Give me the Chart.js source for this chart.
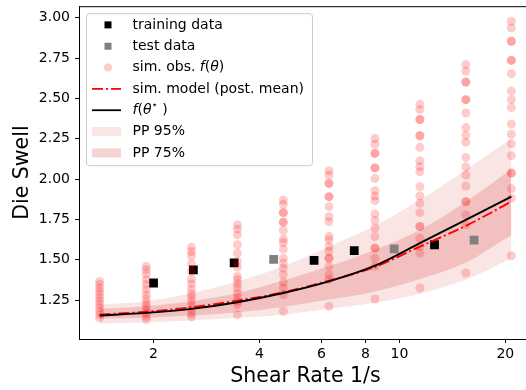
<!DOCTYPE html>
<html>
<head>
<meta charset="utf-8">
<script src="https://cdn.jsdelivr.net/npm/chart.js@4/dist/chart.umd.min.js"></script>
<style>
  html, body { margin: 0; padding: 0; overflow: hidden; background: #fff; }
  #wrap { width: 540px; height: 390px; }
</style>
</head>
<body>
<div id="wrap"><canvas id="swellChart" width="540" height="390"></canvas></div>
<script>
// shear rates where the model was simulated (1/s)
const shearRates = [1.405, 1.907, 2.564, 3.463, 4.677, 6.306, 8.518, 11.43, 15.44, 20.8];

// simulated observations f(theta), one list per shear rate
const obs1 = [1.366, 1.346, 1.325, 1.304, 1.284, 1.263, 1.243, 1.222, 1.202, 1.181, 1.160, 1.140];
const obs2 = [1.459, 1.438, 1.412, 1.377, 1.346, 1.315, 1.284, 1.259, 1.233, 1.212, 1.191, 1.171, 1.150, 1.130];
const obs3 = [1.578, 1.551, 1.525, 1.475, 1.428, 1.381, 1.352, 1.319, 1.290, 1.270, 1.243, 1.216, 1.191, 1.167, 1.146];
const obs4 = [1.716, 1.689, 1.654, 1.593, 1.541, 1.490, 1.455, 1.397, 1.377, 1.352, 1.325, 1.294, 1.263, 1.243, 1.222, 1.160];
const obs5 = [1.870, 1.844, 1.792, 1.792, 1.733, 1.733, 1.681, 1.628, 1.607, 1.566, 1.510, 1.480, 1.449, 1.407, 1.360, 1.325, 1.284, 1.181];
const obs6 = [2.052, 2.025, 1.973, 1.973, 1.891, 1.891, 1.829, 1.767, 1.736, 1.644, 1.623, 1.582, 1.551, 1.510, 1.510, 1.459, 1.407, 1.377, 1.212];
const obs7 = [2.251, 2.216, 2.159, 2.159, 2.069, 2.069, 2.004, 1.928, 1.895, 1.866, 1.784, 1.743, 1.696, 1.644, 1.572, 1.572, 1.510, 1.459, 1.257];
const obs8 = [2.463, 2.430, 2.369, 2.369, 2.268, 2.268, 2.197, 2.113, 2.076, 2.045, 1.952, 1.895, 1.850, 1.792, 1.706, 1.706, 1.634, 1.582, 1.541, 1.325];
const obs9 = [2.710, 2.669, 2.601, 2.601, 2.492, 2.492, 2.409, 2.319, 2.272, 2.228, 2.134, 2.076, 2.025, 1.957, 1.860, 1.860, 1.778, 1.716, 1.418];
const obs10 = [2.977, 2.936, 2.854, 2.854, 2.735, 2.735, 2.653, 2.545, 2.492, 2.443, 2.340, 2.278, 2.218, 2.145, 2.037, 2.037, 1.940, 1.881, 1.525];
const simObs = [obs1, obs2, obs3, obs4, obs5, obs6, obs7, obs8, obs9, obs10];

// model curves
const fStar = [1.154, 1.171, 1.196, 1.237, 1.294, 1.366, 1.463, 1.603, 1.747, 1.891];
const postMean = [1.160, 1.178, 1.206, 1.247, 1.298, 1.370, 1.455, 1.582, 1.710, 1.860];

// posterior predictive bands
const lo95 = [1.105, 1.113, 1.123, 1.140, 1.160, 1.196, 1.233, 1.290, 1.377, 1.510];
const hi95 = [1.222, 1.243, 1.294, 1.366, 1.459, 1.582, 1.710, 1.870, 2.056, 2.251];
const lo75 = [1.134, 1.140, 1.154, 1.175, 1.208, 1.253, 1.304, 1.381, 1.483, 1.654];
const hi75 = [1.196, 1.212, 1.243, 1.294, 1.372, 1.459, 1.562, 1.685, 1.860, 2.060];

// measured data
const trainX = [2.0, 2.596, 3.39, 5.72, 7.44, 12.58];
const trainY = [1.356, 1.438, 1.481, 1.496, 1.557, 1.593];
const testX = [4.39, 9.66, 16.3];
const testY = [1.502, 1.568, 1.622];

const xTicks = [2, 4, 6, 8, 10, 20];
const yTicks = [1.25, 1.5, 1.75, 2.0, 2.25, 2.5, 2.75, 3.0];

const FONT = 'DejaVu Sans';
const fill95 = 'rgba(214, 39, 40, 0.12)';
const fill75 = 'rgba(214, 39, 40, 0.2)';
const dotColor = 'rgba(255, 0, 0, 0.2)';
const dashDot = [11, 3, 2, 3];

Chart.defaults.color = '#000';
Chart.defaults.font.family = FONT;

const pts = (xs, ys) => xs.map((x, i) => ({ x: x, y: ys[i] }));
const simPoints = simObs.flatMap((col, i) => col.map(v => ({ x: shearRates[i], y: v })));

function curve(ys, extra) {
    return Object.assign({
        type: 'line',
        data: pts(shearRates, ys),
        pointRadius: 0,
        borderWidth: 0,
        fill: false,
        cubicInterpolationMode: 'monotone'
    }, extra);
}

// draws the top spine that Chart.js leaves out
const topSpine = {
    id: 'topSpine',
    afterDraw(chart) {
        const { ctx, chartArea: a } = chart;
        ctx.save();
        ctx.strokeStyle = '#000';
        ctx.lineWidth = 1;
        ctx.beginPath();
        ctx.moveTo(a.left, a.top + 0.5);
        ctx.lineTo(a.right, a.top + 0.5);
        ctx.stroke();
        ctx.restore();
    }
};

function rich(ctx, parts, x, y) {
    parts.forEach(p => {
        ctx.font = p[1] || '14px "' + FONT + '"';
        ctx.fillText(p[0], x, y + (p[2] || 0));
        x += ctx.measureText(p[0]).width;
    });
}

// matplotlib-like legend in the upper left corner
const legendBox = {
    id: 'legendBox',
    afterDraw(chart) {
        const { ctx, chartArea: a } = chart;
        const bx = a.left + 7.5, by = a.top + 7.5, bw = 226, bh = 152, r = 3;
        ctx.save();
        ctx.beginPath();
        ctx.moveTo(bx + r, by);
        ctx.arcTo(bx + bw, by, bx + bw, by + bh, r);
        ctx.arcTo(bx + bw, by + bh, bx, by + bh, r);
        ctx.arcTo(bx, by + bh, bx, by, r);
        ctx.arcTo(bx, by, bx + bw, by, r);
        ctx.closePath();
        ctx.fillStyle = 'rgba(255,255,255,0.8)';
        ctx.fill();
        ctx.strokeStyle = '#cccccc';
        ctx.lineWidth = 1;
        ctx.stroke();

        const hx = a.left + 13, hw = 29, mx = a.left + 29, tx = a.left + 53.5;
        const rowY = i => a.top + 18.7 + 21.33 * i;
        const it = 'italic 14px "' + FONT + '"';
        const sup = '10px "' + FONT + '"';
        const rows = [
            [['training data']],
            [['test data']],
            [['sim. obs. '], ['f', it], ['('], ['θ', it], [')']],
            [['sim. model (post. mean)']],
            [['f', it], ['('], ['θ', it], ['⋆', sup, -5], [' )']],
            [['PP 95%']],
            [['PP 75%']]
        ];

        rows.forEach((parts, i) => {
            const y = rowY(i);
            if (i === 0 || i === 1) {
                ctx.fillStyle = i === 0 ? '#000' : '#808080';
                ctx.fillRect(mx - 3.5, y - 3.5, 7, 7);
            } else if (i === 2) {
                ctx.fillStyle = dotColor;
                ctx.beginPath();
                ctx.arc(mx, y, 4, 0, Math.PI * 2);
                ctx.fill();
            } else if (i === 3 || i === 4) {
                ctx.strokeStyle = i === 3 ? '#ff0000' : '#000';
                ctx.lineWidth = 1.8;
                ctx.setLineDash(i === 3 ? dashDot : []);
                ctx.beginPath();
                ctx.moveTo(hx, y);
                ctx.lineTo(hx + hw, y);
                ctx.stroke();
                ctx.setLineDash([]);
            } else {
                ctx.fillStyle = i === 5 ? fill95 : fill75;
                ctx.fillRect(hx, y - 4.5, hw, 9);
            }
            ctx.fillStyle = '#000';
            ctx.textBaseline = 'middle';
            ctx.textAlign = 'left';
            rich(ctx, parts, tx, y);
        });
        ctx.restore();
    }
};

new Chart(document.getElementById('swellChart'), {
    type: 'scatter',
    data: {
        datasets: [
            curve(fStar, { borderColor: '#000', borderWidth: 1.9, order: 0 }),
            curve(postMean, { borderColor: '#ff0000', borderWidth: 1.9, borderDash: dashDot, order: 1 }),
            {
                data: simPoints,
                pointRadius: 4.5,
                pointBorderWidth: 0,
                pointBackgroundColor: dotColor,
                order: 2
            },
            {
                data: pts(testX, testY),
                pointStyle: 'rect',
                pointRadius: 6.2,
                pointBorderWidth: 0,
                pointBackgroundColor: '#808080',
                order: 3
            },
            {
                data: pts(trainX, trainY),
                pointStyle: 'rect',
                pointRadius: 6.2,
                pointBorderWidth: 0,
                pointBackgroundColor: '#000',
                order: 4
            },
            curve(lo75, { order: 6 }),
            curve(hi75, { fill: '-1', backgroundColor: fill75, order: 5 }),
            curve(lo95, { order: 8 }),
            curve(hi95, { fill: '-1', backgroundColor: fill95, order: 7 })
        ]
    },
    options: {
        responsive: false,
        animation: false,
        devicePixelRatio: 1,
        layout: { padding: { top: 6, right: 8, left: 0, bottom: 0 } },
        plugins: {
            legend: { display: false },
            tooltip: { enabled: false }
        },
        scales: {
            x: {
                type: 'logarithmic',
                min: 1.228,
                max: 23.81,
                border: { display: true, color: '#000', width: 1 },
                grid: { display: true, drawOnChartArea: false, drawTicks: true, tickLength: 4, color: '#000' },
                ticks: {
                    font: { size: 14 },
                    color: '#000',
                    padding: 3,
                    autoSkip: false,
                    maxRotation: 0,
                    callback: v => String(v)
                },
                afterBuildTicks: s => { s.ticks = xTicks.map(v => ({ value: v })); },
                afterFit: s => { s.height = 51; s.paddingLeft = 0; s.paddingRight = 0; },
                title: {
                    display: true,
                    text: 'Shear Rate 1/s',
                    font: { size: 20.5 },
                    color: '#000',
                    padding: { top: 0, bottom: 1 }
                }
            },
            y: {
                min: 1.009,
                max: 3.071,
                border: { display: true, color: '#000', width: 1 },
                grid: { display: true, drawOnChartArea: false, drawTicks: true, tickLength: 4, color: '#000' },
                ticks: {
                    font: { size: 14 },
                    color: '#000',
                    padding: 5,
                    callback: v => v.toFixed(2)
                },
                afterBuildTicks: s => { s.ticks = yTicks.map(v => ({ value: v })); },
                afterFit: s => { s.width = 79; s.paddingTop = 0; s.paddingBottom = 0; },
                title: {
                    display: true,
                    text: 'Die Swell',
                    font: { size: 20.5 },
                    color: '#000',
                    padding: { top: 10, bottom: 0 }
                }
            }
        }
    },
    plugins: [topSpine, legendBox]
});
</script>
</body>
</html>
